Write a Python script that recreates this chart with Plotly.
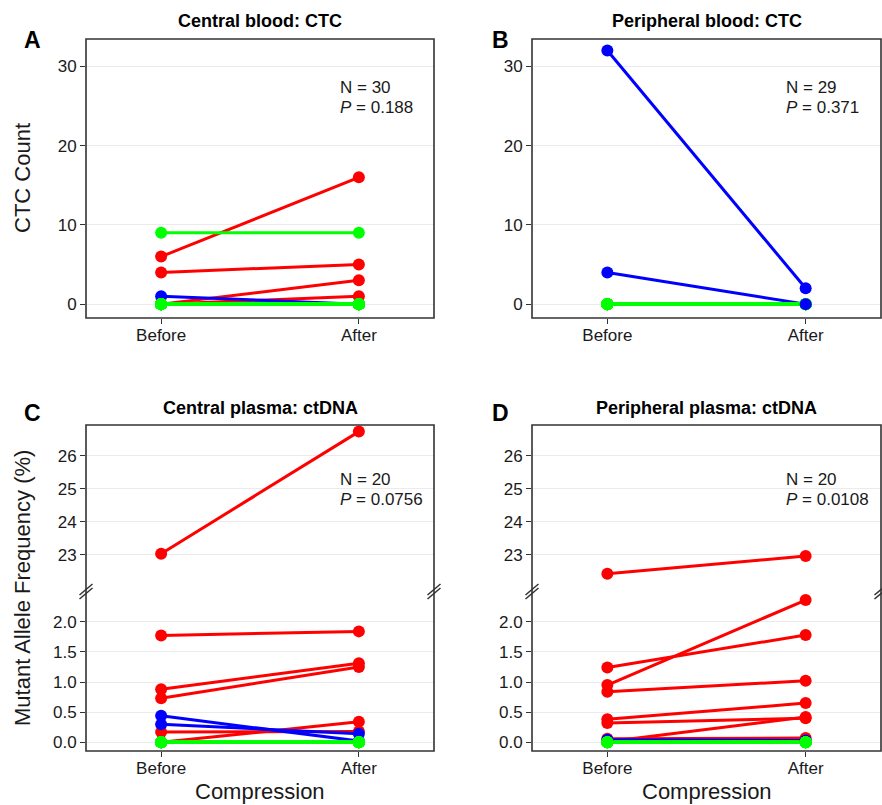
import plotly.graph_objects as go

W, H = 882, 805
categories = ["Before", "After"]

# ---- data ----
# Panel A: Central blood CTC counts, one entry per patient
central_ctc_before = [6, 4, 0, 0, 1, 9, 0, 0, 0, 0, 0, 0, 0, 0, 0, 0, 0, 0, 0, 0, 0, 0, 0, 0, 0, 0, 0, 0, 0, 0]
central_ctc_after = [16, 5, 3, 1, 0, 9, 0, 0, 0, 0, 0, 0, 0, 0, 0, 0, 0, 0, 0, 0, 0, 0, 0, 0, 0, 0, 0, 0, 0, 0]

# Panel B: Peripheral blood CTC counts
peripheral_ctc_before = [0, 0, 0, 0, 0, 0, 0, 0, 0, 0, 0, 0, 0, 0, 0, 0, 0, 0, 0, 0, 0, 0, 0, 0, 0, 0, 0, 32, 4]
peripheral_ctc_after = [0, 0, 0, 0, 0, 0, 0, 0, 0, 0, 0, 0, 0, 0, 0, 0, 0, 0, 0, 0, 0, 0, 0, 0, 0, 0, 0, 2, 0]

# Panel C: Central plasma ctDNA mutant allele frequency (%)
central_maf_before = [23.03, 1.77, 0.88, 0.73, 0.17, 0.00, 0.44, 0.30, 0, 0, 0, 0, 0, 0, 0, 0, 0, 0, 0, 0]
central_maf_after = [26.73, 1.84, 1.31, 1.25, 0.18, 0.34, 0.02, 0.14, 0, 0, 0, 0, 0, 0, 0, 0, 0, 0, 0, 0]

# Panel D: Peripheral plasma ctDNA mutant allele frequency (%)
peripheral_maf_before = [22.42, 0.95, 1.24, 0.84, 0.38, 0.32, 0.01, 0.06, 0.04, 0, 0, 0, 0, 0, 0, 0, 0, 0, 0, 0]
peripheral_maf_after = [22.96, 2.36, 1.78, 1.02, 0.65, 0.40, 0.42, 0.07, 0.03, 0, 0, 0, 0, 0, 0, 0, 0, 0, 0, 0]

panel_titles = ["Central blood: CTC", "Peripheral blood: CTC",
                "Central plasma: ctDNA", "Peripheral plasma: ctDNA"]
panel_letters = ["A", "B", "C", "D"]
n_labels = ["N = 30", "N = 29", "N = 20", "N = 20"]
p_values = ["0.188", "0.371", "0.0756", "0.0108"]

ctc_ticks = [0, 10, 20, 30]
maf_low_ticks = [0.0, 0.5, 1.0, 1.5, 2.0]
maf_high_ticks = [23, 24, 25, 26]
BREAK_AT = 10  # values above the break go to the upper segment

RED, BLUE, GREEN = "#FF0000", "#0000FF", "#00FF00"
FONT = "Liberation Sans, Arial, Helvetica, sans-serif"
INK = "#1a1a1a"
FRAME = "#333333"


def px_x(p):
    return p / W


def px_y(p):
    return 1 - p / H


def color_of(b, a):
    if a > b:
        return RED
    if a < b:
        return BLUE
    return GREEN


fig = go.Figure()


def add_panel(before, after, xa, ya_low, ya_up=None):
    def seg_of(b, a):
        return "up" if (ya_up is not None and b > BREAK_AT and a > BREAK_AT) else "low"

    for col in [RED, BLUE, GREEN]:
        for seg in ["low", "up"]:
            xs, ys = [], []
            for b, a in zip(before, after):
                if color_of(b, a) != col or seg_of(b, a) != seg:
                    continue
                xs += [categories[0], categories[1], None]
                ys += [b, a, None]
            if xs:
                fig.add_trace(go.Scatter(
                    x=xs, y=ys, mode="lines",
                    line=dict(color=col, width=3),
                    xaxis=xa, yaxis=(ya_up if seg == "up" else ya_low),
                    showlegend=False, hoverinfo="skip"))
    for seg in ["low", "up"]:
        xs, ys, cs = [], [], []
        for b, a in zip(before, after):
            if seg_of(b, a) != seg:
                continue
            c = color_of(b, a)
            xs += [categories[0], categories[1]]
            ys += [b, a]
            cs += [c, c]
        if xs:
            fig.add_trace(go.Scatter(
                x=xs, y=ys, mode="markers",
                marker=dict(color=cs, size=12, line=dict(width=0)),
                xaxis=xa, yaxis=(ya_up if seg == "up" else ya_low),
                showlegend=False, hoverinfo="skip"))


add_panel(central_ctc_before, central_ctc_after, "x", "y")
add_panel(peripheral_ctc_before, peripheral_ctc_after, "x2", "y2")
add_panel(central_maf_before, central_maf_after, "x3", "y3", "y4")
add_panel(peripheral_maf_before, peripheral_maf_after, "x4", "y5", "y6")

# ---- panel geometry (pixels) ----
LEFT_COL = (86, 434)
RIGHT_COL = (532, 881)
TOP_ROW = (39, 318)
BOT_ROW = (425, 751)
BREAK_Y = 591

xcommon = dict(type="category", categoryorder="array", categoryarray=categories,
               range=[-0.38, 1.38], showgrid=False, zeroline=False, showline=False,
               ticks="outside", ticklen=5, tickwidth=1, tickcolor=FRAME, ticklabelstandoff=-3,
               tickfont=dict(family=FONT, size=17, color=INK), fixedrange=True)
ycommon = dict(showgrid=True, gridcolor="#EBEBEB", gridwidth=1, zeroline=False, showline=False,
               ticks="outside", ticklen=5, tickwidth=1, tickcolor=FRAME,
               tickfont=dict(family=FONT, size=17, color=INK), fixedrange=True)

ctc_range = [-1.75, 33.45]
low_range = [-0.145, 2.51]
high_range = [21.90, 26.93]

layout = dict(
    width=W, height=H, margin=dict(l=0, r=0, t=0, b=0),
    paper_bgcolor="white", plot_bgcolor="white", showlegend=False,
    xaxis=dict(xcommon, domain=[px_x(LEFT_COL[0]), px_x(LEFT_COL[1])], anchor="y"),
    yaxis=dict(ycommon, domain=[px_y(TOP_ROW[1]), px_y(TOP_ROW[0])], anchor="x",
               range=ctc_range, tickvals=ctc_ticks),
    xaxis2=dict(xcommon, domain=[px_x(RIGHT_COL[0]), px_x(RIGHT_COL[1])], anchor="y2"),
    yaxis2=dict(ycommon, domain=[px_y(TOP_ROW[1]), px_y(TOP_ROW[0])], anchor="x2",
                range=ctc_range, tickvals=ctc_ticks),
    xaxis3=dict(xcommon, domain=[px_x(LEFT_COL[0]), px_x(LEFT_COL[1])], anchor="y3"),
    yaxis3=dict(ycommon, domain=[px_y(BOT_ROW[1]), px_y(BREAK_Y)], anchor="x3",
                range=low_range, tickvals=maf_low_ticks, tickformat=".1f"),
    yaxis4=dict(ycommon, domain=[px_y(BREAK_Y), px_y(BOT_ROW[0])], anchor="x3",
                range=high_range, tickvals=maf_high_ticks),
    xaxis4=dict(xcommon, domain=[px_x(RIGHT_COL[0]), px_x(RIGHT_COL[1])], anchor="y5"),
    yaxis5=dict(ycommon, domain=[px_y(BOT_ROW[1]), px_y(BREAK_Y)], anchor="x4",
                range=low_range, tickvals=maf_low_ticks, tickformat=".1f"),
    yaxis6=dict(ycommon, domain=[px_y(BREAK_Y), px_y(BOT_ROW[0])], anchor="x4",
                range=high_range, tickvals=maf_high_ticks),
)
fig.update_layout(**layout)

shapes = []
annotations = []
boxes = [(LEFT_COL, TOP_ROW), (RIGHT_COL, TOP_ROW), (LEFT_COL, BOT_ROW), (RIGHT_COL, BOT_ROW)]
for (x0, x1), (y0, y1) in boxes:
    shapes.append(dict(type="rect", xref="paper", yref="paper",
                       x0=px_x(x0), x1=px_x(x1), y0=px_y(y1), y1=px_y(y0),
                       line=dict(color=FRAME, width=1.6), fillcolor="rgba(0,0,0,0)", layer="above"))

# axis-break marks on the bottom row panels
for col in [LEFT_COL, RIGHT_COL]:
    for bx in col:
        for cy in [BREAK_Y - 1.5, BREAK_Y + 2.5]:
            shapes.append(dict(type="line", xref="paper", yref="paper",
                               x0=px_x(bx - 6.5), y0=px_y(cy + 5.5),
                               x1=px_x(bx + 6.5), y1=px_y(cy - 5.5),
                               line=dict(color=FRAME, width=1.5), layer="above"))

centers = [(LEFT_COL, TOP_ROW), (RIGHT_COL, TOP_ROW), (LEFT_COL, BOT_ROW), (RIGHT_COL, BOT_ROW)]
title_y = [21, 21, 408, 408]
letter_pos = [(32, 40), (501, 40), (32, 413), (501, 413)]
stat_x = [338, 784, 338, 784]
stat_y = [(87, 108), (87, 108), (479, 500), (479, 500)]

for i, ((x0, x1), (y0, y1)) in enumerate(centers):
    annotations.append(dict(text="<b>%s</b>" % panel_titles[i], xref="paper", yref="paper",
                            x=px_x((x0 + x1) / 2), y=px_y(title_y[i]), xanchor="center", yanchor="middle",
                            showarrow=False, font=dict(family=FONT, size=18, color="black")))
    annotations.append(dict(text="<b>%s</b>" % panel_letters[i], xref="paper", yref="paper",
                            x=px_x(letter_pos[i][0]), y=px_y(letter_pos[i][1]), xanchor="center",
                            yanchor="middle", showarrow=False,
                            font=dict(family=FONT, size=23, color="black")))
    annotations.append(dict(text=n_labels[i], xref="paper", yref="paper",
                            x=px_x(stat_x[i]), y=px_y(stat_y[i][0]), xanchor="left", yanchor="middle",
                            showarrow=False, font=dict(family=FONT, size=17, color=INK)))
    annotations.append(dict(text="<i>P</i> = %s" % p_values[i], xref="paper", yref="paper",
                            x=px_x(stat_x[i]), y=px_y(stat_y[i][1]), xanchor="left", yanchor="middle",
                            showarrow=False, font=dict(family=FONT, size=17, color=INK)))

# axis titles
annotations.append(dict(text="CTC Count", xref="paper", yref="paper", x=px_x(22), y=px_y(178),
                        textangle=-90, xanchor="center", yanchor="middle", showarrow=False,
                        font=dict(family=FONT, size=22, color=INK)))
annotations.append(dict(text="Mutant Allele Frequency (%)", xref="paper", yref="paper",
                        x=px_x(22), y=px_y(588), textangle=-90, xanchor="center", yanchor="middle",
                        showarrow=False, font=dict(family=FONT, size=22, color=INK)))
for col in [LEFT_COL, RIGHT_COL]:
    annotations.append(dict(text="Compression", xref="paper", yref="paper",
                            x=px_x((col[0] + col[1]) / 2), y=0, xanchor="center",
                            yanchor="bottom", showarrow=False, borderpad=0,
                            font=dict(family=FONT, size=22, color=INK)))

fig.update_layout(shapes=shapes, annotations=annotations)
fig.write_html("out.html", config={"displayModeBar": False},
               post_script="document.body.style.margin='0px';document.body.style.padding='0px';")
